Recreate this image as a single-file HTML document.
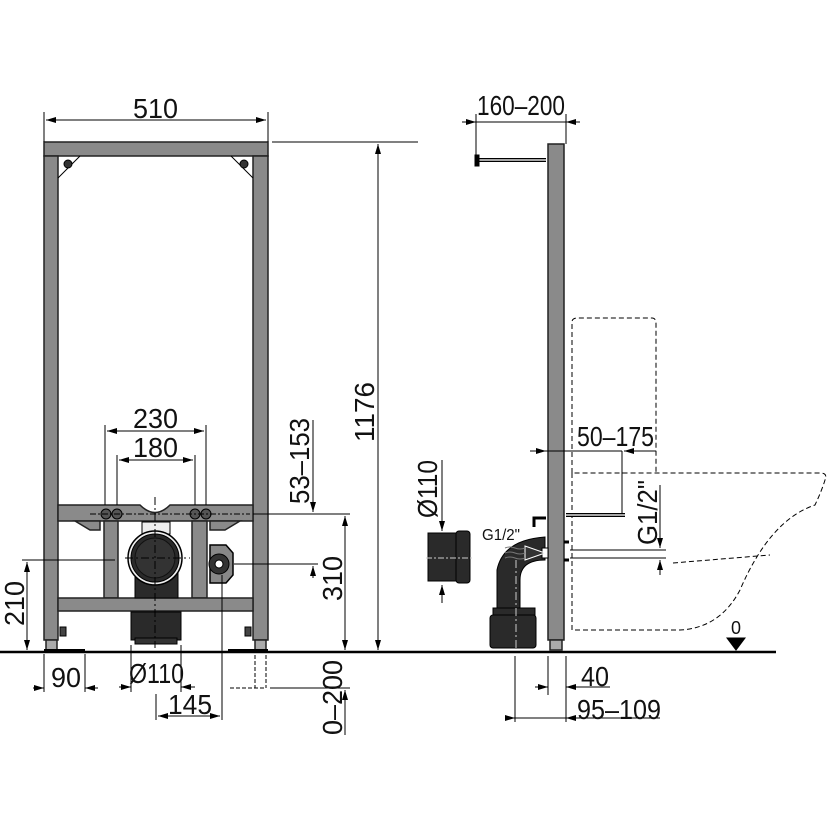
<!DOCTYPE html>
<html><head><meta charset="utf-8"><style>
html,body{margin:0;padding:0;background:#fff}
svg{display:block}
text{font-family:"Liberation Sans",sans-serif;font-size:28px;fill:#111}
</style></head><body>
<svg width="830" height="830" viewBox="0 0 830 830" xmlns="http://www.w3.org/2000/svg">
<defs>
<marker id="a" viewBox="0 0 10 6" refX="10" refY="3" markerWidth="10" markerHeight="6" orient="auto-start-reverse" markerUnits="userSpaceOnUse"><path d="M0,0L10,3L0,6z" fill="#000"/></marker>
</defs>
<g stroke="#000" stroke-width="1" fill="none">
<line x1="0" y1="652" x2="776" y2="652" stroke-width="2.5"/>
<g fill="#8a8a8a" stroke="#222" stroke-width="1.5">
<rect x="44" y="142" width="224" height="14"/>
<rect x="44" y="156" width="14" height="484"/>
<rect x="253" y="156" width="15" height="484"/>
<path d="M58,505 H140 Q155,520 170,505 H253 V521 H58z"/>
<path d="M75,521 L90,530 H100 V521z"/>
<path d="M240,521 L225,530 H210 V521z"/>
<rect x="104" y="521" width="14" height="77"/>
<rect x="192" y="521" width="15" height="77"/>
<rect x="58" y="598" width="195" height="13"/>
<rect x="46" y="640" width="11" height="10" fill="#aaa"/>
<rect x="255" y="640" width="11" height="10" fill="#aaa"/>
<rect x="548" y="144" width="16" height="496"/>
<rect x="550" y="640" width="12" height="10" fill="#aaa"/>
</g>
<line x1="44" y1="650" x2="85" y2="650" stroke-width="2"/>
<line x1="228" y1="650" x2="268" y2="650" stroke-width="2"/>
<path d="M58,178 L80,156 M253,178 L231,156" />
<circle cx="68" cy="164" r="4" fill="#333"/><circle cx="244" cy="164" r="4" fill="#333"/>
<g fill="#555"><circle cx="106" cy="514" r="5"/><circle cx="117" cy="514" r="5"/><circle cx="195" cy="514" r="5"/><circle cx="206" cy="514" r="5"/></g>
<line x1="90" y1="514" x2="250" y2="514" stroke-dasharray="6,2,2,2"/>
<path d="M135,560 H178 V598 H135z" fill="#2a2a2a"/>
<rect x="131" y="612" width="50" height="28" fill="#2a2a2a"/>
<rect x="135" y="638" width="42" height="6" fill="#333"/>
<rect x="142" y="522" width="28" height="12" fill="#eee"/>
<circle cx="155" cy="558" r="27" fill="#eee" stroke-width="1.5"/>
<circle cx="155" cy="558" r="24" fill="#2a2a2a"/>
<circle cx="155" cy="558" r="20" fill="#333" stroke="#111"/>
<line x1="155" y1="497" x2="155" y2="648" stroke-dasharray="8,3,2,3"/>
<line x1="125" y1="558" x2="190" y2="558" stroke-dasharray="8,3,2,3"/>
<path d="M210,545 H226 L233,553 V575 L226,583 H210z" fill="#888" stroke-width="1.5"/>
<circle cx="219" cy="564" r="10" fill="#333"/><circle cx="219" cy="564" r="4" fill="#fff"/>
<rect x="60" y="627" width="6" height="9" fill="#444"/><rect x="245" y="627" width="6" height="9" fill="#444"/>
<line x1="44" y1="112" x2="44" y2="142"/><line x1="268" y1="112" x2="268" y2="142"/>
<line x1="46" y1="120" x2="266" y2="120" marker-start="url(#a)" marker-end="url(#a)"/>
<line x1="272" y1="142" x2="418" y2="142"/>
<line x1="378" y1="144" x2="378" y2="650" marker-start="url(#a)" marker-end="url(#a)"/>
<line x1="105" y1="425" x2="105" y2="505"/><line x1="206" y1="425" x2="206" y2="505"/>
<line x1="107" y1="431" x2="204" y2="431" marker-start="url(#a)" marker-end="url(#a)"/>
<line x1="117" y1="455" x2="117" y2="505"/><line x1="195" y1="455" x2="195" y2="505"/>
<line x1="119" y1="460" x2="193" y2="460" marker-start="url(#a)" marker-end="url(#a)"/>
<line x1="253" y1="514" x2="350" y2="514"/>
<line x1="313" y1="420" x2="313" y2="512" marker-end="url(#a)"/>
<line x1="313" y1="578" x2="313" y2="566" marker-end="url(#a)"/>
<line x1="234" y1="564" x2="318" y2="564"/>
<line x1="345" y1="516" x2="345" y2="650" marker-start="url(#a)" marker-end="url(#a)"/>
<line x1="22" y1="560" x2="115" y2="560"/>
<line x1="27" y1="562" x2="27" y2="650" marker-start="url(#a)" marker-end="url(#a)"/>
<line x1="44" y1="654" x2="44" y2="692"/><line x1="85" y1="654" x2="85" y2="692"/>
<line x1="33" y1="688" x2="44" y2="688" marker-end="url(#a)"/><line x1="98" y1="688" x2="85" y2="688" marker-end="url(#a)"/>
<line x1="131" y1="645" x2="131" y2="692"/><line x1="181" y1="645" x2="181" y2="692"/>
<line x1="119" y1="687" x2="131" y2="687" marker-end="url(#a)"/><line x1="195" y1="687" x2="181" y2="687" marker-end="url(#a)"/>
<line x1="156" y1="694" x2="156" y2="720"/><line x1="222" y1="575" x2="222" y2="720"/>
<line x1="158" y1="716" x2="220" y2="716" marker-start="url(#a)" marker-end="url(#a)"/>
<path d="M255,655 V688 M266,655 V688 M230,688 H266" stroke-dasharray="4,2"/>
<line x1="270" y1="688" x2="350" y2="688"/>
<line x1="345" y1="735" x2="345" y2="690" marker-end="url(#a)"/>
<line x1="478" y1="160" x2="546" y2="160" stroke-width="4"/>
<line x1="478" y1="160" x2="546" y2="160" stroke="#ddd" stroke-width="1.5"/>
<rect x="475" y="155" width="4" height="11" fill="#000"/>
<line x1="476" y1="114" x2="476" y2="155"/><line x1="566" y1="114" x2="566" y2="144"/>
<line x1="462" y1="122" x2="476" y2="122" marker-end="url(#a)"/><line x1="580" y1="122" x2="566" y2="122" marker-end="url(#a)"/>
<line x1="476" y1="122" x2="566" y2="122"/>
<g stroke-dasharray="5,3">
<path d="M572,473 V322 Q572,318 578,318 H652 Q656,318 656,324 V473"/>
<path d="M572,473 V630 H680 Q720,628 740,590 Q770,520 815,505 Q822,490 825,480 Q828,473 820,473 H572"/>
<line x1="673" y1="563" x2="770" y2="555"/>
</g>
<line x1="530" y1="451" x2="546" y2="451" marker-end="url(#a)"/>
<line x1="546" y1="451" x2="622" y2="451"/>
<line x1="656" y1="451" x2="624" y2="451" marker-end="url(#a)"/>
<line x1="622" y1="451" x2="622" y2="515"/>
<line x1="566" y1="515" x2="625" y2="515" stroke-width="4"/>
<line x1="566" y1="515" x2="625" y2="515" stroke="#ddd" stroke-width="1.5"/>
<path d="M534,527 V518 H546" stroke-width="3"/>
<line x1="570" y1="550" x2="666" y2="550"/><line x1="570" y1="558" x2="666" y2="558"/>
<line x1="660" y1="485" x2="660" y2="548" marker-end="url(#a)"/>
<line x1="660" y1="575" x2="660" y2="560" marker-end="url(#a)"/>
<path d="M497,570 Q503,540 545,537 V560 Q520,560 520,580 V612 H497z" fill="#2a2a2a"/>
<rect x="493" y="608" width="42" height="7" fill="#2a2a2a"/>
<rect x="490" y="615" width="46" height="33" rx="3" fill="#2a2a2a"/>
<rect x="542" y="548" width="6" height="10" fill="#fff"/>
<path d="M525,546 L545,553 L525,560z" fill="#333" stroke="#fff"/>
<path d="M505,548 q5,-2 10,0 t10,0 M505,553 q5,-2 10,0 t10,0 M505,558 q5,-2 10,0 t10,0" stroke="#777"/>
<line x1="516" y1="560" x2="516" y2="648" stroke="#ccc" stroke-dasharray="8,3,2,3"/>
<line x1="564" y1="542" x2="569" y2="542" stroke-width="3"/>
<line x1="564" y1="560" x2="569" y2="560" stroke-width="3"/>
<rect x="428" y="533" width="28" height="48" fill="#2a2a2a"/>
<rect x="456" y="531" width="14" height="52" rx="3" fill="#2a2a2a"/>
<line x1="426" y1="558" x2="472" y2="558" stroke="#ccc" stroke-dasharray="6,2,2,2"/>
<line x1="442" y1="460" x2="442" y2="531" marker-end="url(#a)"/>
<line x1="442" y1="603" x2="442" y2="585" marker-end="url(#a)"/>
<path d="M727,638 H745 L736,650z" fill="#000"/>
<line x1="548" y1="656" x2="548" y2="695"/><line x1="566" y1="656" x2="566" y2="722"/><line x1="515" y1="656" x2="515" y2="722"/>
<line x1="535" y1="687" x2="548" y2="687" marker-end="url(#a)"/>
<line x1="610" y1="687" x2="566" y2="687"/><line x1="580" y1="687" x2="566" y2="687" marker-end="url(#a)"/>
<line x1="505" y1="718" x2="515" y2="718" marker-end="url(#a)"/>
<line x1="515" y1="718" x2="660" y2="718"/><line x1="578" y1="718" x2="566" y2="718" marker-end="url(#a)"/>
</g>
<g lengthAdjust="spacingAndGlyphs">
<text x="133" y="118" textLength="45" lengthAdjust="spacingAndGlyphs">510</text>
<text x="133" y="428" textLength="45" lengthAdjust="spacingAndGlyphs">230</text>
<text x="133" y="457" textLength="45" lengthAdjust="spacingAndGlyphs">180</text>
<text x="51" y="687" textLength="30" lengthAdjust="spacingAndGlyphs">90</text>
<text x="129" y="683" textLength="55" lengthAdjust="spacingAndGlyphs">Ø110</text>
<text x="168" y="714" textLength="44" lengthAdjust="spacingAndGlyphs">145</text>
<text transform="translate(374,442) rotate(-90)" textLength="60" lengthAdjust="spacingAndGlyphs">1176</text>
<text transform="translate(309,504) rotate(-90)" textLength="86" lengthAdjust="spacingAndGlyphs">53–153</text>
<text transform="translate(342,601) rotate(-90)" textLength="45" lengthAdjust="spacingAndGlyphs">310</text>
<text transform="translate(24,626) rotate(-90)" textLength="45" lengthAdjust="spacingAndGlyphs">210</text>
<text transform="translate(342,735) rotate(-90)" textLength="75" lengthAdjust="spacingAndGlyphs">0–200</text>
<text x="477" y="115" textLength="88" lengthAdjust="spacingAndGlyphs">160–200</text>
<text x="577" y="446" textLength="77" lengthAdjust="spacingAndGlyphs">50–175</text>
<text transform="translate(657,545) rotate(-90)" textLength="65" lengthAdjust="spacingAndGlyphs">G1/2"</text>
<text transform="translate(437,518) rotate(-90)" textLength="58" lengthAdjust="spacingAndGlyphs">Ø110</text>
<text x="482" y="540" style="font-size:16px" textLength="38" lengthAdjust="spacingAndGlyphs">G1/2"</text>
<text x="736" y="634" text-anchor="middle" style="font-size:18px">0</text>
<text x="581" y="686" textLength="28" lengthAdjust="spacingAndGlyphs">40</text>
<text x="577" y="719" textLength="84" lengthAdjust="spacingAndGlyphs">95–109</text>
</g>
</svg>
</body></html>
